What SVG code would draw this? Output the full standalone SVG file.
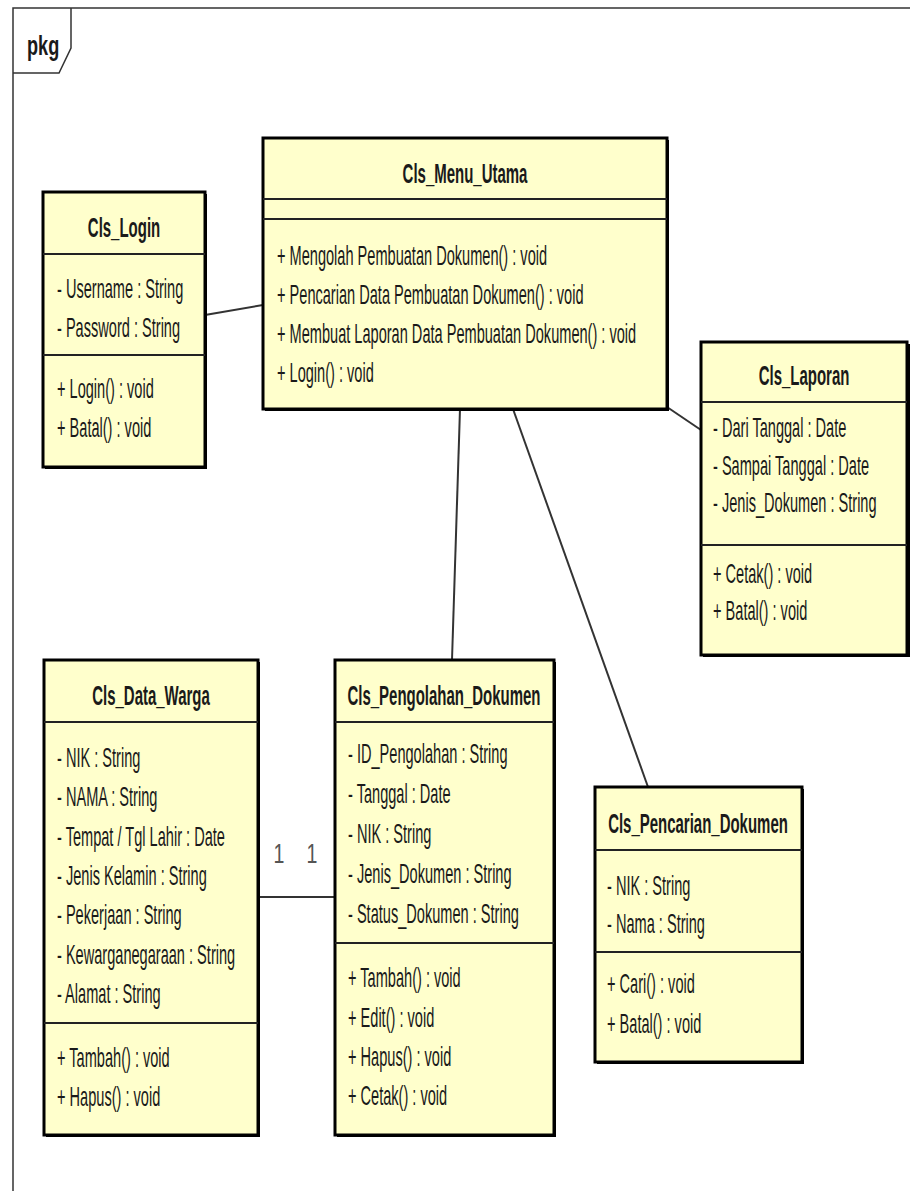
<svg xmlns="http://www.w3.org/2000/svg" width="910" height="1191" viewBox="0 0 910 1191">
<style>
.bg{fill:#ffffff}
.frame{fill:none;stroke:#333;stroke-width:1.5}
.box{fill:#FFFFCC;stroke:#000;stroke-width:3}
.sh{fill:#000}
.sep{stroke:#222;stroke-width:2}
.t{font-family:"Liberation Sans",Arial,sans-serif;font-size:27.5px;fill:#1a1a1a}
.b{font-weight:bold;text-anchor:middle}
.conn{stroke:#333;stroke-width:2;fill:none}
.lbl{font-family:"Liberation Sans",Arial,sans-serif;font-size:28px;fill:#555;text-anchor:middle}
</style>
<rect class="bg" x="0" y="0" width="910" height="1191"/>
<g id="frame">
<path class="frame" d="M13,1191 V8 H910"/>
<path class="frame" d="M71,8 V48 L59,73 H13"/>
<text class="t" font-weight="bold" font-size="22" transform="matrix(0.66 0 0 1 27 55)">pkg</text>
</g>
<g id="connectors">
<line class="conn" x1="205" y1="315" x2="263" y2="305"/>
<line class="conn" x1="667" y1="407" x2="701" y2="430"/>
<line class="conn" x1="460" y1="409" x2="452" y2="660"/>
<line class="conn" x1="513" y1="409" x2="648" y2="787"/>
<line class="conn" x1="258" y1="897" x2="335" y2="897"/>
<text class="lbl" transform="matrix(0.7 0 0 1 279 863)">1</text>
<text class="lbl" transform="matrix(0.7 0 0 1 312 863)">1</text>
</g>
<g id="Cls_Login">
<rect class="sh" x="45" y="194" width="162" height="275"/>
<rect class="box" x="43" y="192" width="162" height="275"/>
<line class="sep" x1="43" y1="254" x2="205" y2="254"/>
<line class="sep" x1="43" y1="355" x2="205" y2="355"/>
<text class="t b" transform="matrix(0.545 0 0 1 124 237)">Cls_Login</text>
<text class="t" transform="matrix(0.53 0 0 1 57 298)">- Username : String</text>
<text class="t" transform="matrix(0.53 0 0 1 57 337)">- Password : String</text>
<text class="t" transform="matrix(0.53 0 0 1 57 398)">+ Login() : void</text>
<text class="t" transform="matrix(0.53 0 0 1 57 437)">+ Batal() : void</text>
</g>
<g id="Cls_Menu_Utama">
<rect class="sh" x="265" y="140" width="404" height="271"/>
<rect class="box" x="263" y="138" width="404" height="271"/>
<line class="sep" x1="263" y1="199" x2="667" y2="199"/>
<line class="sep" x1="263" y1="219" x2="667" y2="219"/>
<text class="t b" transform="matrix(0.545 0 0 1 465 183)">Cls_Menu_Utama</text>
<text class="t" transform="matrix(0.53 0 0 1 277 265)">+ Mengolah Pembuatan Dokumen() : void</text>
<text class="t" transform="matrix(0.53 0 0 1 277 304)">+ Pencarian Data Pembuatan Dokumen() : void</text>
<text class="t" transform="matrix(0.53 0 0 1 277 343)">+ Membuat Laporan Data Pembuatan Dokumen() : void</text>
<text class="t" transform="matrix(0.53 0 0 1 277 382)">+ Login() : void</text>
</g>
<g id="Cls_Laporan">
<rect class="sh" x="703" y="344" width="207" height="313"/>
<rect class="box" x="701" y="342" width="206" height="313"/>
<line class="sep" x1="701" y1="402" x2="907" y2="402"/>
<line class="sep" x1="701" y1="545" x2="907" y2="545"/>
<text class="t b" transform="matrix(0.545 0 0 1 804 385)">Cls_Laporan</text>
<text class="t" transform="matrix(0.53 0 0 1 713 437)">- Dari Tanggal : Date</text>
<text class="t" transform="matrix(0.53 0 0 1 713 475)">- Sampai Tanggal : Date</text>
<text class="t" transform="matrix(0.53 0 0 1 713 512)">- Jenis_Dokumen : String</text>
<text class="t" transform="matrix(0.53 0 0 1 713 583)">+ Cetak() : void</text>
<text class="t" transform="matrix(0.53 0 0 1 713 620)">+ Batal() : void</text>
</g>
<g id="Cls_Data_Warga">
<rect class="sh" x="46" y="662" width="214" height="475"/>
<rect class="box" x="44" y="660" width="214" height="475"/>
<line class="sep" x1="44" y1="722" x2="258" y2="722"/>
<line class="sep" x1="44" y1="1023" x2="258" y2="1023"/>
<text class="t b" transform="matrix(0.545 0 0 1 151 705)">Cls_Data_Warga</text>
<text class="t" transform="matrix(0.53 0 0 1 57 767)">- NIK : String</text>
<text class="t" transform="matrix(0.53 0 0 1 57 806)">- NAMA : String</text>
<text class="t" transform="matrix(0.53 0 0 1 57 846)">- Tempat / Tgl Lahir : Date</text>
<text class="t" transform="matrix(0.53 0 0 1 57 885)">- Jenis Kelamin : String</text>
<text class="t" transform="matrix(0.53 0 0 1 57 924)">- Pekerjaan : String</text>
<text class="t" transform="matrix(0.53 0 0 1 57 964)">- Kewarganegaraan : String</text>
<text class="t" transform="matrix(0.53 0 0 1 57 1003)">- Alamat : String</text>
<text class="t" transform="matrix(0.53 0 0 1 57 1067)">+ Tambah() : void</text>
<text class="t" transform="matrix(0.53 0 0 1 57 1106)">+ Hapus() : void</text>
</g>
<g id="Cls_Pengolahan_Dokumen">
<rect class="sh" x="337" y="662" width="219" height="475"/>
<rect class="box" x="335" y="660" width="219" height="475"/>
<line class="sep" x1="335" y1="722" x2="554" y2="722"/>
<line class="sep" x1="335" y1="943" x2="554" y2="943"/>
<text class="t b" transform="matrix(0.545 0 0 1 444 705)">Cls_Pengolahan_Dokumen</text>
<text class="t" transform="matrix(0.53 0 0 1 348 763)">- ID_Pengolahan : String</text>
<text class="t" transform="matrix(0.53 0 0 1 348 803)">- Tanggal : Date</text>
<text class="t" transform="matrix(0.53 0 0 1 348 843)">- NIK : String</text>
<text class="t" transform="matrix(0.53 0 0 1 348 883)">- Jenis_Dokumen : String</text>
<text class="t" transform="matrix(0.53 0 0 1 348 923)">- Status_Dokumen : String</text>
<text class="t" transform="matrix(0.53 0 0 1 348 987)">+ Tambah() : void</text>
<text class="t" transform="matrix(0.53 0 0 1 348 1027)">+ Edit() : void</text>
<text class="t" transform="matrix(0.53 0 0 1 348 1066)">+ Hapus() : void</text>
<text class="t" transform="matrix(0.53 0 0 1 348 1105)">+ Cetak() : void</text>
</g>
<g id="Cls_Pencarian_Dokumen">
<rect class="sh" x="597" y="789" width="207" height="275"/>
<rect class="box" x="595" y="787" width="207" height="275"/>
<line class="sep" x1="595" y1="850" x2="802" y2="850"/>
<line class="sep" x1="595" y1="952" x2="802" y2="952"/>
<text class="t b" transform="matrix(0.545 0 0 1 698 833)">Cls_Pencarian_Dokumen</text>
<text class="t" transform="matrix(0.53 0 0 1 607 895)">- NIK : String</text>
<text class="t" transform="matrix(0.53 0 0 1 607 933)">- Nama : String</text>
<text class="t" transform="matrix(0.53 0 0 1 607 993)">+ Cari() : void</text>
<text class="t" transform="matrix(0.53 0 0 1 607 1033)">+ Batal() : void</text>
</g>
</svg>
